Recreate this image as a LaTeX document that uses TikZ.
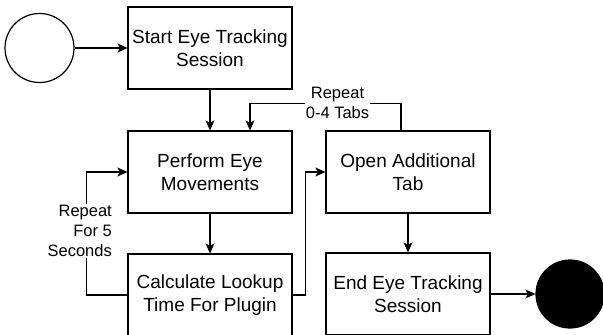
\documentclass[tikz,border=0pt]{standalone}
\usepackage{fontspec}
\setmainfont{Liberation Sans}
\usetikzlibrary{arrows.meta,calc}
\begin{document}
\begin{tikzpicture}[x=1pt,y=-1pt,
  box/.style={draw, line width=1.2pt, minimum width=164pt, minimum height=82pt, align=center, font=\fontsize{19}{23}\selectfont, inner sep=0pt},
  conn/.style={line width=1.2pt, -{Stealth[length=10pt,width=9pt,inset=2.5pt]}},
  lbl/.style={fill=white, font=\fontsize{16.5}{20}\selectfont, inner sep=1pt}
]
\useasboundingbox (0,0) rectangle (603,335);
\clip (0,0) rectangle (603,335);
\node[circle, draw, line width=1.2pt, minimum size=69pt, inner sep=0pt] (startc) at (39.5,48) {};
\node[box] (start) at (210,48) {Start Eye Tracking\\Session};
\node[box] (perform) at (210,172) {Perform Eye\\Movements};
\node[box] (calc) at (210,295) {Calculate Lookup\\Time For Plugin};
\node[box] (open) at (408,172) {Open Additional\\Tab};
\node[box] (end) at (408,294) {End Eye Tracking\\Session};
\node[circle, draw, fill=black, line width=1.2pt, minimum size=68pt, inner sep=0pt] (endc) at (570,294) {};

\draw[conn] (startc) -- (start);
\draw[conn] (start) -- (perform);
\draw[conn] (perform) -- (calc);
\draw[conn] (open) -- (end);
\draw[conn] (end) -- (endc);
\draw[conn] (calc.west) -- ++(-41,0) |- (perform.west);
\draw[conn] (calc.east) -- ++(13,0) |- (open.west);
\coordinate (loopA) at ($(open.north)+(-7,0)$);
\coordinate (loopB) at ($(perform.north)+(40,0)$);
\draw[conn] (loopA) -- ++(0,-27) -| (loopB);
\node[lbl, align=right, anchor=east] (lblA) at (113,231) {Repeat\\For 5\\Seconds};
\node[lbl, align=center] (lblB) at (337.5,103) {Repeat\\0-4 Tabs};
\end{tikzpicture}
\end{document}
